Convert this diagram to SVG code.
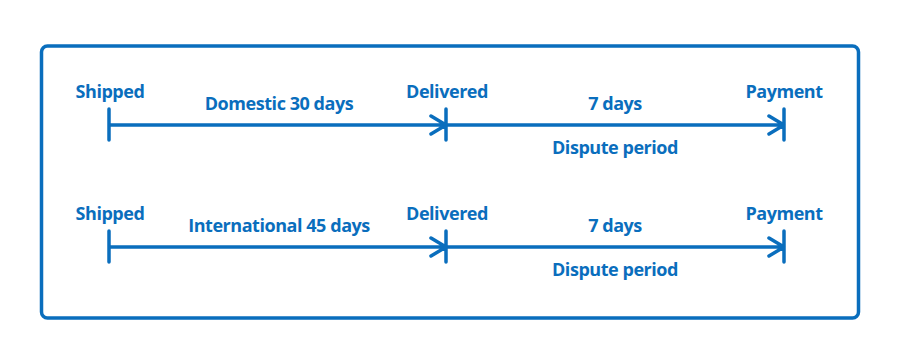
<svg xmlns="http://www.w3.org/2000/svg" width="900" height="363" viewBox="0 0 900 363">
<style>
text{font-family:"Open Sans","Liberation Sans",sans-serif;font-weight:700;font-size:18px;letter-spacing:-0.45px;fill:#0a6ebd;text-anchor:middle}
.ln{stroke:#0a6ebd;stroke-width:3.5;fill:none;stroke-linecap:round;stroke-linejoin:round}
</style>
<rect x="41.5" y="46" width="817" height="272" rx="6" fill="#fff" stroke="#0a6ebd" stroke-width="3.5"/>
<g id="connectors">
<path class="ln" d="M109 125H784M109 109V140M446 109V140M784 109V140M431 116L446 125L431 134M769 116L784 125L769 134"/>
<path class="ln" d="M109 247H784M109 231V262M446 231V262M784 231V262M431 238L446 247L431 256M769 238L784 247L769 256"/>
</g>
<g id="shipped1"><text x="110" y="98">Shipped</text></g>
<g id="delivered1"><text x="447" y="98">Delivered</text></g>
<g id="payment1"><text x="784" y="98">Payment</text></g>
<g id="label-domestic"><text x="279" y="110">Domestic 30 days</text></g>
<g id="label-7days1"><text x="615" y="110">7 days</text></g>
<g id="label-dispute1"><text x="615" y="154">Dispute period</text></g>
<g id="shipped2"><text x="110" y="220">Shipped</text></g>
<g id="delivered2"><text x="447" y="220">Delivered</text></g>
<g id="payment2"><text x="784" y="220">Payment</text></g>
<g id="label-international"><text x="279" y="232">International 45 days</text></g>
<g id="label-7days2"><text x="615" y="232">7 days</text></g>
<g id="label-dispute2"><text x="615" y="276">Dispute period</text></g>
</svg>
